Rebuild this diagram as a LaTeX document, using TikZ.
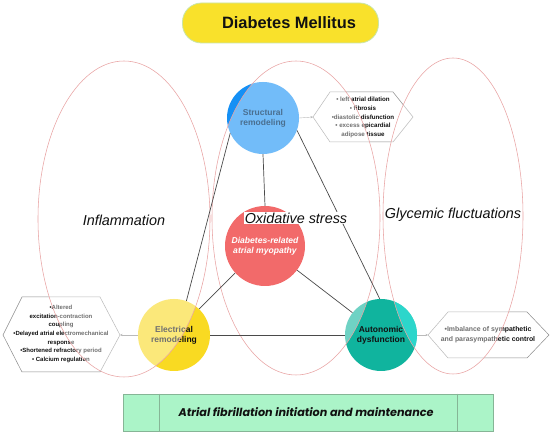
\documentclass[tikz,border=0pt]{standalone}
\usepackage{fontspec}
\setmainfont{Liberation Sans}
\newfontfamily\popfont{Poppins}
\usetikzlibrary{arrows.meta}
\definecolor{titley}{HTML}{F9E12B}
\definecolor{titleedge}{HTML}{C9E5A8}
\definecolor{strbase}{HTML}{1590F5}
\definecolor{strtext}{HTML}{4A6F90}
\definecolor{elbase}{HTML}{F9DA22}
\definecolor{autbase}{HTML}{10B49E}
\definecolor{autlight}{HTML}{2CD6CB}
\definecolor{myo}{HTML}{F26A6A}
\definecolor{linegray}{HTML}{4A4A4A}
\definecolor{hexgray}{HTML}{8C8C8C}
\definecolor{ellpink}{HTML}{E9A3A3}
\definecolor{barfill}{HTML}{ABF4C8}
\definecolor{baredge}{HTML}{86B596}
\definecolor{txt}{HTML}{111111}
\begin{document}
\begin{tikzpicture}[x=1pt,y=-1pt,
  circ/.style={circle, inner sep=0pt, minimum size=72pt, align=center, text=txt,
    font=\fontsize{8.5}{10}\selectfont\bfseries},
  conn/.style={draw=linegray, line width=0.7pt},
  arr/.style={draw=hexgray, line width=0.4pt, -{Stealth[length=2.5pt,width=2.2pt]}},
  hexbox/.style={draw=hexgray, fill=white, line width=0.5pt},
  hextext/.style={align=center, text=txt, font=\fontsize{6.2}{8.8}\selectfont\bfseries},
  ell/.style={draw=ellpink, line width=0.55pt},
  ellfill/.style={fill=white, fill opacity=0.4},
  elab/.style={font=\fontsize{14.4}{16}\selectfont\itshape, text=txt}]

\useasboundingbox (0,0) rectangle (550,435);
\fill[white] (0,0) rectangle (550,435);

% title
\node[draw=titleedge, fill=titley, rounded corners=19pt, minimum width=196pt,
  minimum height=40pt, line width=0.8pt] (title) at (280.5,23) {};
\node[text=txt, font=\fontsize{16.4}{18}\selectfont\bfseries] (titletext) at (289,23) {Diabetes Mellitus};

% circles (before overlay)
\node[circ, fill=strbase] (S) at (263,118) {};
\node[circ, fill=elbase] (E) at (174,335) {Electrical\\remodeling};
\node[circ, fill=autbase] (A) at (381,335) {Autonomic\\dysfunction};

% hexagons
\draw[hexbox] (313,117) coordinate (thl) -- (330,92) -- (393,92) -- (413,117)
  -- (393,142) -- (330,142) -- cycle;
\node[hextext] (th) at (363,117.5) {• left atrial dilation\\• fibrosis\\•diastolic disfunction\\• excess epicardial\\adipose tissue};

\draw[hexbox] (3,335) -- (22,297) -- (100,297) -- (120,335) coordinate (lhr)
  -- (100,372) -- (22,372) -- cycle;
\node[hextext, font=\fontsize{6}{8.7}\selectfont\bfseries] (lh) at (61,334) {•Altered\\excitation-contraction\\coupling\\•Delayed atrial electromechanical\\response\\•Shortened refractory period\\• Calcium regulation};

\draw[hexbox] (428,335) coordinate (rhl) -- (448,312) -- (527,312) -- (549,335)
  -- (527,358) -- (448,358) -- cycle;
\node[hextext, font=\fontsize{6.9}{10}\selectfont\bfseries] (rh) at (488,335) {•Imbalance of sympathetic\\and parasympathetic control};

% arrows to hexagons
\draw[arr] (S.east) -- (thl);
\draw[arr] (E.west) -- (lhr);
\draw[arr] (A.east) -- (rhl);

% translucent ellipse overlays
\fill[ellfill] (124,219) ellipse [x radius=86, y radius=158];
\fill[ellfill] (296,218) ellipse [x radius=84, y radius=157];
\fill[ellfill] (453,216) ellipse [x radius=70, y radius=158];

% brighter cyan part of the autonomic circle inside the right ellipse
\begin{scope}
  \clip (453,216) ellipse [x radius=70, y radius=158];
  \fill[autlight] (A.center) circle [radius=36];
\end{scope}

\draw[ell] (124,219) ellipse [x radius=86, y radius=158];
\draw[ell] (296,218) ellipse [x radius=84, y radius=157];
\draw[ell] (453,216) ellipse [x radius=70, y radius=158];

% after overlay
\node[align=center, text=strtext, font=\fontsize{8.5}{10}\selectfont\bfseries] (Stext) at (S) {Structural\\remodeling};
\node[circle, inner sep=0pt, minimum size=80pt, fill=myo, text=white, align=center,
  font=\fontsize{8.6}{10.2}\selectfont\bfseries\itshape] (M) at (265,246) {Diabetes-related\\atrial myopathy};

% connectors
\draw[conn] (S.south) -- (M.north);
\draw[conn] (S.205) -- (E.70);
\draw[conn] (S.340) -- (A.92);
\draw[conn] (M.222) -- (E.46);
\draw[conn] (M.323) -- (A.142);
\draw[conn, line width=0.9pt] (E.east) -- (A.west);

\node[elab, fill=white, inner sep=1.2pt] (ox) at (296,218) {Oxidative stress};
\node[elab] (infl) at (124,220) {Inflammation};
\node[elab] (glyc) at (453,215) {Glycemic fluctuations};

% bottom bar
\node[draw=baredge, fill=barfill, line width=0.6pt, minimum width=370pt, minimum height=37pt] (bar) at (308,412.5) {};
\draw[draw=baredge, line width=0.6pt] ([xshift=37pt]bar.north west) -- ([xshift=37pt]bar.south west);
\draw[draw=baredge, line width=0.6pt] ([xshift=-36pt]bar.north east) -- ([xshift=-36pt]bar.south east);
\node[text=txt, font=\popfont\fontsize{11.2}{13}\selectfont\bfseries\itshape] (bartext) at (306,412) {Atrial fibrillation initiation and maintenance};
\end{tikzpicture}
\end{document}
